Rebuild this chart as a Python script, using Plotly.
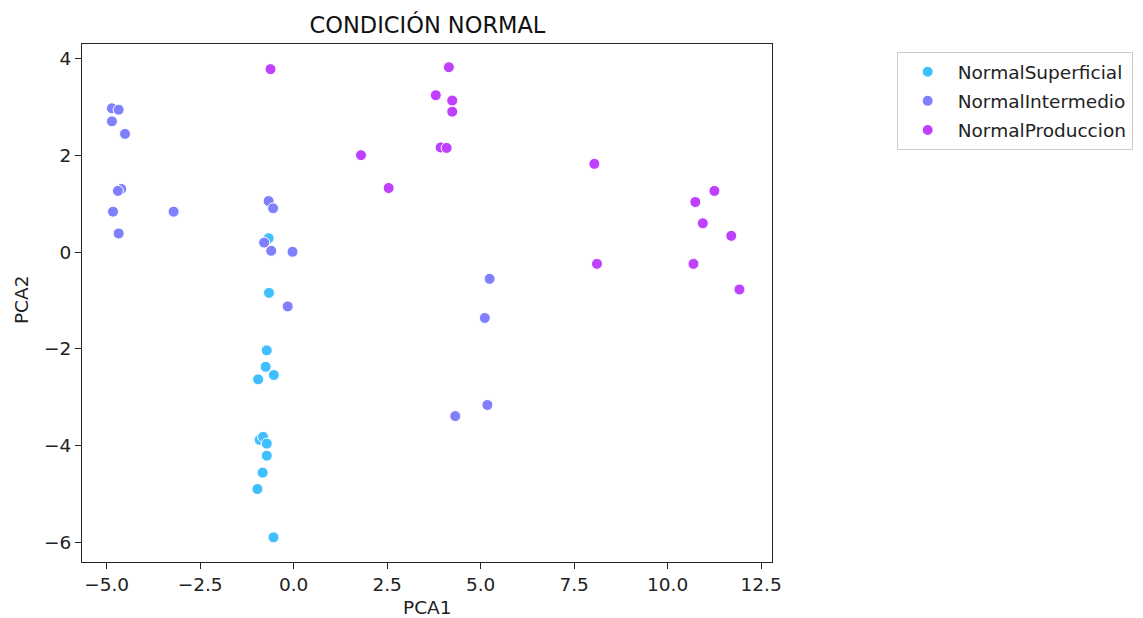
import plotly.graph_objects as go

# PCA scores per class
sup_x = [-0.67, -0.66, -0.72, -0.75, -0.53, -0.95, -0.91, -0.82, -0.72, -0.72, -0.83, -0.97, -0.54]
sup_y = [0.29, -0.84, -2.03, -2.37, -2.54, -2.63, -3.88, -3.82, -3.96, -4.21, -4.56, -4.90, -5.90]

int_x = [-4.86, -4.68, -4.86, -4.51, -4.61, -4.70, -4.83, -4.68, -3.21, -0.67, -0.55, -0.79,
         -0.60, -0.03, -0.16, 5.24, 5.11, 5.18, 4.32]
int_y = [2.98, 2.95, 2.71, 2.45, 1.31, 1.27, 0.84, 0.39, 0.84, 1.06, 0.91, 0.20,
         0.03, 0.01, -1.12, -0.55, -1.36, -3.16, -3.39]

pro_x = [-0.62, 1.80, 2.54, 4.15, 3.80, 4.24, 4.24, 3.93, 4.09, 8.04, 11.25, 10.74,
         10.94, 11.70, 8.11, 10.69, 11.92]
pro_y = [3.79, 2.01, 1.33, 3.83, 3.25, 3.14, 2.91, 2.17, 2.16, 1.83, 1.27, 1.04,
         0.60, 0.34, -0.24, -0.24, -0.77]

series = [
    ("NormalSuperficial", sup_x, sup_y, "#40BFFF"),
    ("NormalIntermedio", int_x, int_y, "#8080FF"),
    ("NormalProduccion", pro_x, pro_y, "#BF40FF"),
]

x_ticks = [-5.0, -2.5, 0.0, 2.5, 5.0, 7.5, 10.0, 12.5]
y_ticks = [-6, -4, -2, 0, 2, 4]

font = "DejaVu Sans"
fs = 18.5
W, H = 1143, 618
L, R, T, B = 82, 370, 44, 56

fig = go.Figure()
for name, xs, ys, color in series:
    fig.add_trace(go.Scatter(
        x=xs, y=ys, mode="markers", name=name, legendgroup=name,
        marker=dict(size=11, color=color, line=dict(color="white", width=1)),
    ))

axis_common = dict(
    showline=True, linecolor="#262626", linewidth=1, mirror=True,
    ticks="outside", ticklen=6, tickwidth=1, tickcolor="#262626",
    showgrid=False, zeroline=False, automargin=False,
    tickfont=dict(family=font, size=fs, color="#222222"),
)

plot_w = W - L - R
plot_h = H - T - B

fig.update_layout(
    width=W, height=H,
    margin=dict(l=L, r=R, t=T, b=B),
    paper_bgcolor="white", plot_bgcolor="white",
    title=dict(text="CONDICIÓN NORMAL", x=(L + W - R) / 2 / W, xanchor="center",
               y=1 - 25 / H, yanchor="middle",
               font=dict(family=font, size=22.5, color="#111111")),
    xaxis=dict(axis_common, range=[-5.66, 12.79], tickvals=x_ticks,
               ticktext=["\u22125.0", "\u22122.5", "0.0", "2.5", "5.0", "7.5", "10.0", "12.5"]),
    yaxis=dict(axis_common, range=[-6.41, 4.31], tickvals=y_ticks,
               ticktext=["\u22126", "\u22124", "\u22122", "0", "2", "4"]),
    legend=dict(x=1.179, y=0.984, xanchor="left", yanchor="top",
                bordercolor="#cccccc", borderwidth=1, bgcolor="white",
                font=dict(family=font, size=fs, color="#222222"),
                itemsizing="constant", itemwidth=50, tracegroupgap=2),
    showlegend=True,
    annotations=[
        dict(text="PCA1", xref="paper", yref="paper", x=0.5,
             y=-(607 - (H - B)) / plot_h, xanchor="center", yanchor="middle",
             showarrow=False, font=dict(family=font, size=fs, color="#222222")),
        dict(text="PCA2", xref="paper", yref="paper", x=-(L - 21) / plot_w,
             y=(H - B - 300) / plot_h, xanchor="center", yanchor="middle", textangle=-90,
             showarrow=False, font=dict(family=font, size=fs, color="#222222")),
    ],
)

fig.write_html("out.html")
